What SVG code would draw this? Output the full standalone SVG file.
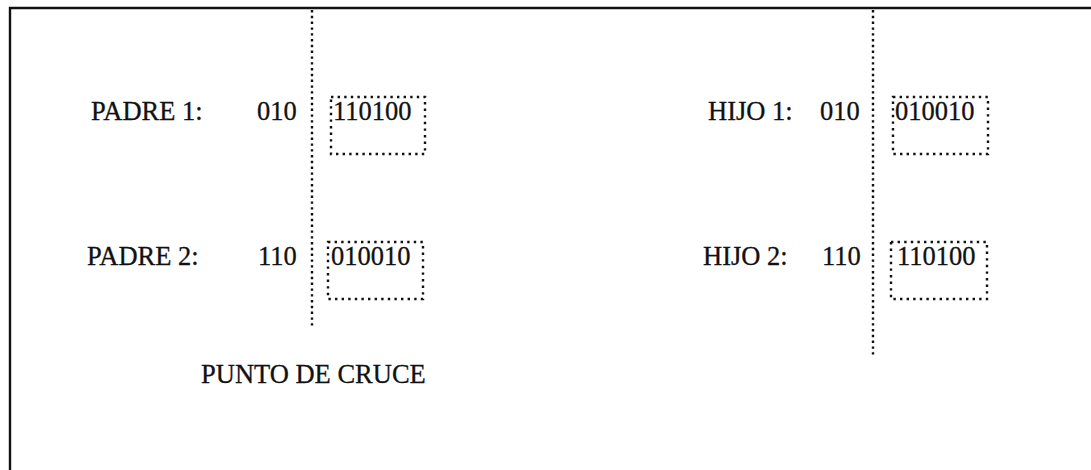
<svg xmlns="http://www.w3.org/2000/svg" width="1091" height="470" viewBox="0 0 1091 470">
  <style>
    text { font-family: "Liberation Serif", "Times New Roman", serif; font-size: 26.5px; fill: #111; stroke: #111; stroke-width: 0.3; }
    .frame { stroke: #111; stroke-width: 2.4; fill: none; }
    .cut { stroke: #111; stroke-width: 2.4; stroke-dasharray: 2.4 3.4; fill: none; }
    .box { stroke: #111; stroke-width: 2.4; stroke-dasharray: 2.4 4.2; fill: none; }
  </style>
  <rect width="1091" height="470" fill="#fff"/>
  <g id="frame">
    <path class="frame" d="M10,470 L10,8 L1091,8"/>
  </g>
  <g id="connectors">
    <line class="cut" x1="312" y1="10" x2="312" y2="326"/>
    <line class="cut" x1="873" y1="10" x2="873" y2="356"/>
  </g>
  <g id="padre1">
    <text x="91" y="120">PADRE 1:</text>
    <text x="257" y="120">010</text>
    <rect class="box" x="331" y="97" width="94" height="57"/>
    <text x="333" y="120">110100</text>
  </g>
  <g id="padre2">
    <text x="87" y="265">PADRE 2:</text>
    <text x="258" y="265">110</text>
    <rect class="box" x="328" y="242" width="95" height="57"/>
    <text x="331" y="265">010010</text>
  </g>
  <g id="hijo1">
    <text x="708" y="120">HIJO 1:</text>
    <text x="820" y="120">010</text>
    <rect class="box" x="893" y="97" width="95" height="57"/>
    <text x="895" y="120">010010</text>
  </g>
  <g id="hijo2">
    <text x="703" y="265">HIJO 2:</text>
    <text x="822" y="265">110</text>
    <rect class="box" x="891" y="242" width="96" height="57"/>
    <text x="897" y="265">110100</text>
  </g>
  <g id="punto">
    <text x="201" y="383">PUNTO DE CRUCE</text>
  </g>
</svg>
